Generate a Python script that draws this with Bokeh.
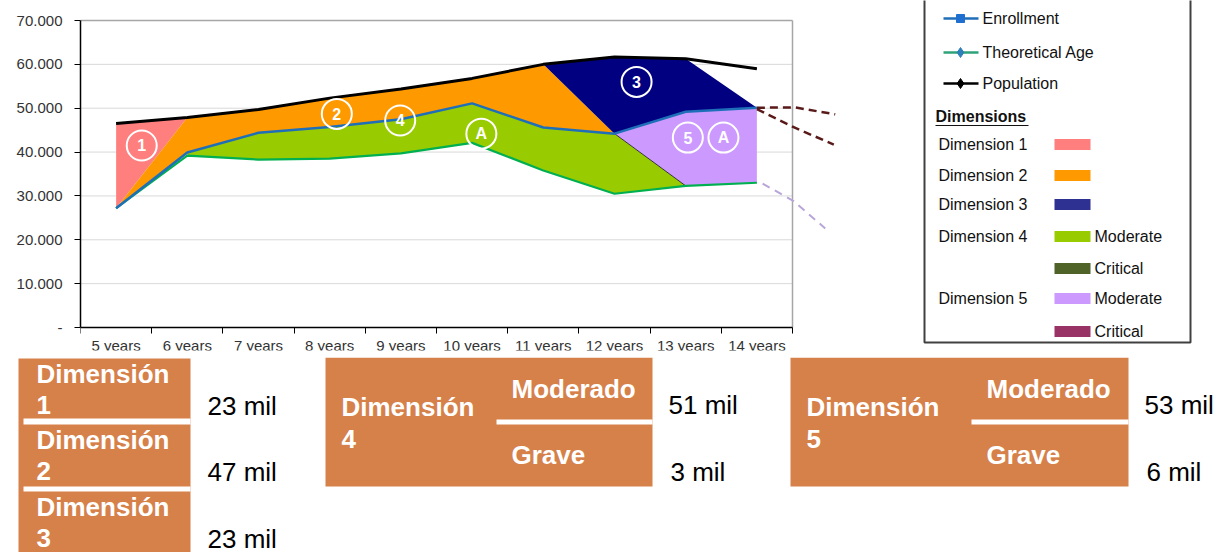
from bokeh.plotting import figure
from bokeh.models import Range1d, FixedTicker
from bokeh.layouts import column, row
from bokeh.embed import file_html
from bokeh.resources import INLINE
from bokeh.core.properties import value

# ---------------- data ----------------
categories = ["5 years", "6 years", "7 years", "8 years", "9 years",
              "10 years", "11 years", "12 years", "13 years", "14 years"]
population = [46500, 47900, 49700, 52300, 54400, 56800, 60000, 61700, 61300, 59000]
enrollment = [27200, 39900, 44400, 45700, 47500, 51100, 45600, 44200, 49200, 50100]
theoretical = [27200, 39200, 38300, 38500, 39700, 42100, 35800, 30500, 32300, 33000]

# projections beyond "14 years" (x in category-index units)
proj_upper_x = [9.5, 10.03, 10.6]
proj_upper_y = [50100, 50200, 48600]
proj_mid_x = [9.5, 10.04, 10.58]
proj_mid_y = [49800, 45500, 41700]
proj_low_x = [9.58, 10.01, 10.46]
proj_low_y = [32800, 28900, 22600]

# circled markers on the chart
ann_labels = ["1", "2", "4", "A", "3", "5", "A"]
ann_x = [0.86, 3.6, 4.49, 5.63, 7.81, 8.53, 9.03]
ann_y = [41500, 48700, 47200, 44200, 56000, 43300, 43300]

y_ticks = [0, 10000, 20000, 30000, 40000, 50000, 60000, 70000]
y_tick_labels = ["-", "10.000", "20.000", "30.000", "40.000", "50.000", "60.000", "70.000"]

legend_series = ["Enrollment", "Theoretical Age", "Population"]
legend_dims = ["Dimension 1", "Dimension 2", "Dimension 3", "Dimension 4", "", "Dimension 5", ""]
legend_sev = ["", "", "", "Moderate", "Critical", "Moderate", "Critical"]

simple_dims = ["1", "2", "3"]
simple_vals = ["23 mil", "47 mil", "23 mil"]
split_dims = ["4", "5"]
severities = ["Moderado", "Grave"]
split_vals = [["51 mil", "3 mil"], ["53 mil", "6 mil"]]

# ---------------- styles ----------------
FONT_NAME = "Liberation Sans"
FONT = value(FONT_NAME)
C_D1 = "#FF7F7F"
C_D2 = "#FF9900"
C_D3 = "#000080"
C_D4 = "#99CC00"
C_D5 = "#CC99FF"
C_ENR = "#1F6FB8"
C_THEO = "#00B050"
C_POP = "#000000"
C_BOX = "#D6804A"

PAGE_W, PAGE_H = 1220, 552
n = len(categories)
xc = [i + 0.5 for i in range(n)]

# ---------------- chart + legend (one figure) ----------------
CAT_PX = 71.2          # pixels per category
top_h = 357            # height of the upper figure
mbl, mbb = 80, 7       # left panel (y labels) and bottom panel (ticks)
frame_h = top_h - mbb
AX_TOP, AX_BOT = 20, 327   # pixel rows of 70.000 and 0
upp = y_ticks[-1] / (AX_BOT - AX_TOP)  # value units per pixel

p = figure(width=PAGE_W, height=top_h,
           x_range=Range1d(0, (PAGE_W - mbl) / CAT_PX),
           y_range=Range1d(-(frame_h - AX_BOT) * upp, y_ticks[-1] + AX_TOP * upp),
           output_backend="svg", toolbar_location=None,
           min_border_left=mbl, min_border_right=0,
           min_border_top=0, min_border_bottom=mbb)
p.outline_line_color = None
p.grid.visible = False
p.extra_x_ranges = {"px": Range1d(mbl, PAGE_W)}
p.extra_y_ranges = {"py": Range1d(frame_h, 0)}
PX = dict(x_range_name="px", y_range_name="py")

# gridlines and plot-area border (only over the category span)
p.segment(x0=0, x1=n, y0=y_ticks[1:-1], y1=y_ticks[1:-1], line_color="#D9D9D9", line_width=1)
p.segment(x0=[0, n], x1=[n, n], y0=[y_ticks[-1], 0], y1=[y_ticks[-1], y_ticks[-1]],
          line_color="#A6A6A6", line_width=1.5)

# areas
d1_x = [xc[0], xc[0], xc[1]]
d1_y = [population[0], enrollment[0], population[1]]
p.patch(d1_x, d1_y, fill_color=C_D1, line_color=None)

d2_x = [xc[0]] + xc[1:7] + [xc[7]] + xc[6:0:-1]
d2_y = [enrollment[0]] + population[1:7] + [enrollment[7]] + enrollment[6:0:-1]
p.patch(d2_x, d2_y, fill_color=C_D2, line_color=None)

d3_x = xc[6:9] + [xc[9]] + xc[8:6:-1]
d3_y = population[6:9] + [enrollment[9]] + enrollment[8:6:-1]
p.patch(d3_x, d3_y, fill_color=C_D3, line_color=None)

d4_x = xc[1:8] + [xc[8]] + xc[7:0:-1]
d4_y = enrollment[1:8] + [theoretical[8]] + theoretical[7:0:-1]
p.patch(d4_x, d4_y, fill_color=C_D4, line_color=None)

d5_x = xc[7:10] + xc[9:7:-1]
d5_y = enrollment[7:10] + theoretical[9:7:-1]
p.patch(d5_x, d5_y, fill_color=C_D5, line_color=None)
p.line([xc[7], xc[8]], [enrollment[7], theoretical[8]], line_color="#333333", line_width=1)

# lines
p.line(xc, theoretical, line_color=C_THEO, line_width=2.2)
p.line(xc, enrollment, line_color=C_ENR, line_width=2.5)
p.line(xc, population, line_color=C_POP, line_width=3)

# projections
p.line(proj_upper_x, proj_upper_y, line_color="#5A1A1A", line_width=2.5, line_dash="8 5")
p.line(proj_mid_x, proj_mid_y, line_color="#5A1A1A", line_width=2.5, line_dash="8 5")
p.line(proj_low_x, proj_low_y, line_color="#B9A6D9", line_width=2, line_dash="8 6")

# circled labels
p.scatter(ann_x, ann_y, marker="circle", size=30, fill_color=None,
          line_color="white", line_width=2)
p.text(ann_x, ann_y, text=ann_labels, text_align="center", text_baseline="middle",
       text_color="white", text_font=FONT, text_font_style="bold", text_font_size="16px")

# x axis: drawn at value 0, ticks at category boundaries (labels drawn below)
xa = p.xaxis[0]
xa.fixed_location = 0
xa.ticker = FixedTicker(ticks=[], minor_ticks=list(range(n + 1)))
xa.bounds = (0, n)
xa.major_tick_out = 0
xa.major_tick_in = 0
xa.minor_tick_out = 6
xa.minor_tick_in = 0
xa.minor_tick_line_color = "black"
xa.axis_line_color = "black"
xa.axis_line_width = 1.5
xa.major_label_standoff = 0
p.text(xc, [345] * n, text=categories, y_range_name="py", text_align="center",
       text_baseline="middle", text_font=FONT, text_font_size="15px", text_color="#333333")

ya = p.yaxis[0]
ya.ticker = FixedTicker(ticks=y_ticks)
ya.major_label_overrides = {t: l for t, l in zip(y_ticks, y_tick_labels)}
ya.bounds = (0, y_ticks[-1])
ya.major_tick_out = 6
ya.major_tick_in = 0
ya.minor_tick_line_color = None
ya.axis_line_color = "black"
ya.axis_line_width = 1.5
ya.major_label_standoff = 12
ya.major_label_text_font = FONT_NAME
ya.major_label_text_font_size = "15px"
ya.major_label_text_color = "#333333"

# legend box (page pixel coordinates)
p.quad(left=924, right=1190, top=-20, bottom=342, fill_color="white",
       line_color="#404040", line_width=2, **PX)

ser_rows = [18, 52, 83]
ser_line_colors = [C_ENR, "#2EA37A", C_POP]
ser_marker_colors = ["#1F6FD0", "#2F7FB8", C_POP]
ser_markers = ["square", "diamond", "diamond"]
p.segment(x0=943, x1=978, y0=ser_rows, y1=ser_rows, line_color=ser_line_colors,
          line_width=2.5, **PX)
p.scatter([960] * 3, ser_rows, marker=ser_markers, size=[8, 10, 10],
          fill_color=ser_marker_colors, line_color=ser_marker_colors, **PX)
p.text([982] * 3, ser_rows, text=legend_series, text_baseline="middle",
       text_font=FONT, text_font_size="16px", text_color="#111111", **PX)

p.text([935], [116], text=["Dimensions"], text_baseline="middle", text_font=FONT,
       text_font_style="bold", text_font_size="16px", text_color="#111111", **PX)
p.segment(x0=935, x1=1028, y0=125, y1=125, line_color="#111111", line_width=1.2, **PX)

dim_rows = [144, 175, 204, 236, 268, 298, 331]
sw_colors = ["#FF7F7F", "#FF9900", "#2E3192", "#99CC00", "#4F6228", "#CC99FF", "#993366"]
p.quad(left=1054, right=1090, top=[y - 5.5 for y in dim_rows], bottom=[y + 5.5 for y in dim_rows],
       fill_color=sw_colors, line_color=None, **PX)
p.text([938] * len(dim_rows), dim_rows, text=legend_dims, text_baseline="middle",
       text_font=FONT, text_font_size="16px", text_color="#111111", **PX)
p.text([1094] * len(dim_rows), dim_rows, text=legend_sev, text_baseline="middle",
       text_font=FONT, text_font_size="16px", text_color="#111111", **PX)

# ---------------- tables (page pixel coords) ----------------
tb = figure(width=PAGE_W, height=PAGE_H - top_h,
            x_range=Range1d(0, PAGE_W), y_range=Range1d(PAGE_H, top_h),
            output_backend="svg", toolbar_location=None, min_border=0,
            x_axis_type=None, y_axis_type=None)
tb.outline_line_color = None
tb.grid.visible = False

BOXF = "26px"
TXT = dict(text_font=FONT, text_font_size=BOXF, text_baseline="middle")
# simple dimensions 1-3
tb.quad(left=18, right=190, top=358, bottom=570, fill_color=C_BOX, line_color=None)
tb.quad(left=23, right=190, top=[418, 486], bottom=[424, 491], fill_color="white", line_color=None)
top_rows = [358, 424, 491]
tb.text([36] * 3, [t + 15 for t in top_rows], text=["Dimensión"] * 3,
        text_font_style="bold", text_color="white", **TXT)
tb.text([36] * 3, [t + 46 for t in top_rows], text=simple_dims,
        text_font_style="bold", text_color="white", **TXT)
tb.text([207] * 3, [t + 47 for t in top_rows], text=simple_vals, text_color="black", **TXT)

# split dimensions 4-5
blk_left = [325, 790]
blk_right = [652, 1128]
blk_split = [496, 971]
tb.quad(left=blk_left, right=blk_right, top=357, bottom=486, fill_color=C_BOX, line_color=None)
tb.quad(left=blk_split, right=blk_right, top=419, bottom=424, fill_color="white", line_color=None)
tb.text([l + 16 for l in blk_left], [406] * 2, text=["Dimensión"] * 2,
        text_font_style="bold", text_color="white", **TXT)
tb.text([l + 16 for l in blk_left], [438] * 2, text=split_dims,
        text_font_style="bold", text_color="white", **TXT)
for k in range(2):
    tb.text([blk_split[k] + 15] * 2, [388, 454], text=severities,
            text_font_style="bold", text_color="white", **TXT)
    tb.text([blk_right[k] + 16, blk_right[k] + 18], [404, 471], text=split_vals[k],
            text_color="black", **TXT)

layout = column(row(p), tb)
open("out.html", "w").write(file_html(layout, INLINE))
